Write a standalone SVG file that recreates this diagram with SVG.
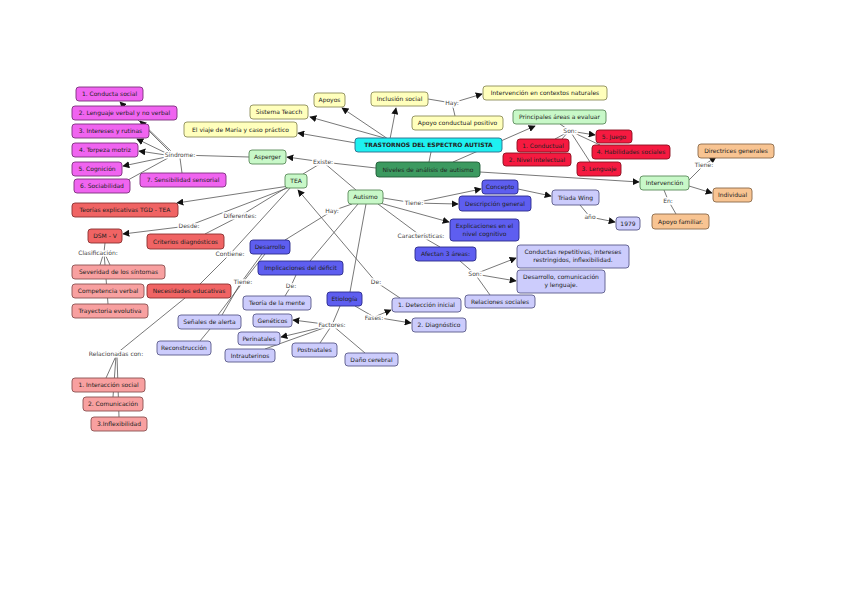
<svg xmlns="http://www.w3.org/2000/svg" width="848" height="599" viewBox="0 0 848 599">
<defs>
<marker id="ar" viewBox="0 0 10 10" refX="9" refY="5" markerWidth="7" markerHeight="7" markerUnits="userSpaceOnUse" orient="auto">
<path d="M0,0 L10,5 L0,10 z" fill="#111"/>
</marker>
<style>
text{font-family:"DejaVu Sans","Liberation Sans",sans-serif;font-size:6px;fill:#222;text-anchor:middle}
.n rect{stroke-width:0.9;rx:3;ry:3}
.pk rect{fill:#f064f0;stroke:#7a307a}
.yl rect{fill:#ffffbc;stroke:#8c8c5a}
.cy rect{fill:#1ef0f0;stroke:#2a6a8a}
.dg rect{fill:#3c9a60;stroke:#1f5a36}
.lg rect{fill:#c8f8c8;stroke:#5a8a5a}
.rd rect{fill:#f51a40;stroke:#8a1020}
.sm rect{fill:#f06464;stroke:#8a3030}
.ls rect{fill:#f8a0a0;stroke:#8a5050}
.bl rect{fill:#5e5ef0;stroke:#2a2a8a}
.lv rect{fill:#ccccfc;stroke:#5a5a8a}
.pc rect{fill:#f8c492;stroke:#8a6a4a}
.b{font-weight:bold}
#links path{fill:none;stroke:#555;stroke-width:0.8}
#links .a{marker-end:url(#ar)}
.lb{paint-order:stroke;stroke:#fff;stroke-width:3px;fill:#444}
</style>
</defs>
<rect width="848" height="599" fill="#fff"/>
<g id="links">
<path class="a" d="M388,139 L342,108"/>
<path class="a" d="M388,139 L310,117"/>
<path class="a" d="M356,143 L298,133"/>
<path class="a" d="M390,139 L396,108"/>
<path d="M428,99 L452,103"/>
<path class="a" d="M452,103 L482,94"/>
<path d="M452,103 L455,116"/>
<path d="M431,152 L429,162"/>
<path class="a" d="M453,162 L535,126"/>
<path class="a" d="M480,172 L639,182"/>
<path d="M376,168 L323,162"/>
<path class="a" d="M323,162 L287,157"/>
<path d="M323,162 L303,174"/>
<path d="M323,162 L356,190"/>
<path d="M249,157 L180,155"/>
<path class="a" d="M170,152 L120,102"/>
<path class="a" d="M172,152 L140,121"/>
<path class="a" d="M168,154 L137,139"/>
<path class="a" d="M166,155 L139,151"/>
<path class="a" d="M166,157 L123,166"/>
<path d="M168,158 L128,180"/>
<path d="M180,158 L182,173"/>
<path class="a" d="M289,186 L177,203"/>
<path d="M289,186 L240,216 L205,234"/>
<path d="M290,187 L188,226"/>
<path class="a" d="M188,226 L123,234"/>
<path d="M291,187 L230,254 L200,284"/>
<path d="M185,298 L116,354"/>
<path d="M116,356 L106,378"/>
<path d="M116,356 L113,397"/>
<path d="M117,356 L119,417"/>
<path d="M105,243 L104,252"/>
<path d="M104,252 L100,265"/>
<path d="M104,252 L110,265"/>
<path d="M104,252 L108,304"/>
<path d="M352,204 L332,211 L285,240"/>
<path d="M358,204 L310,261"/>
<path d="M366,204 L350,292"/>
<path d="M383,198 L414,203"/>
<path class="a" d="M414,203 L481,189"/>
<path class="a" d="M414,203 L458,204"/>
<path class="a" d="M380,203 L449,222"/>
<path d="M378,204 L421,236 L440,247"/>
<path class="a" d="M400,298 L376,282 L298,190"/>
<path d="M265,254 L243,282 L218,315"/>
<path d="M262,254 L240,284 L222,315"/>
<path d="M296,275 L291,286 L285,296"/>
<path d="M210,329 L200,341"/>
<path d="M340,306 L332,325"/>
<path class="a" d="M332,325 L293,320"/>
<path class="a" d="M332,325 L281,337"/>
<path d="M332,325 L265,349"/>
<path d="M332,325 L320,343"/>
<path d="M332,325 L365,353"/>
<path d="M355,306 L374,317"/>
<path class="a" d="M374,317 L391,310"/>
<path class="a" d="M374,317 L411,323"/>
<path d="M460,261 L475,274"/>
<path class="a" d="M475,274 L516,258"/>
<path class="a" d="M475,274 L516,281"/>
<path d="M475,274 L490,295"/>
<path class="a" d="M518,189 L551,196"/>
<path d="M580,205 L590,217"/>
<path class="a" d="M590,217 L615,222"/>
<path d="M560,124 L570,131"/>
<path class="a" d="M570,131 L595,135"/>
<path d="M570,131 L600,145"/>
<path d="M570,131 L590,162"/>
<path d="M570,131 L555,139"/>
<path d="M568,132 L550,153"/>
<path d="M689,180 L704,165"/>
<path class="a" d="M704,165 L716,157"/>
<path class="a" d="M689,186 L712,193"/>
<path d="M664,190 L668,200 L676,214"/>
</g>
<g id="labels">
<text class="lb" x="180" y="157">Síndrome:</text>
<text class="lb" x="452" y="105">Hay:</text>
<text class="lb" x="323" y="164">Existe:</text>
<text class="lb" x="240" y="218">Diferentes:</text>
<text class="lb" x="189" y="228">Desde:</text>
<text class="lb" x="98" y="255">Clasificación:</text>
<text class="lb" x="230" y="256">Contiene:</text>
<text class="lb" x="116" y="356">Relacionadas con:</text>
<text class="lb" x="332" y="213">Hay:</text>
<text class="lb" x="243" y="284">Tiene:</text>
<text class="lb" x="291" y="288">De:</text>
<text class="lb" x="376" y="284">De:</text>
<text class="lb" x="414" y="205">Tiene:</text>
<text class="lb" x="421" y="238">Características:</text>
<text class="lb" x="332" y="327">Factores:</text>
<text class="lb" x="374" y="320">Fases:</text>
<text class="lb" x="475" y="276">Son:</text>
<text class="lb" x="590" y="219">año</text>
<text class="lb" x="570" y="133">Son:</text>
<text class="lb" x="704" y="167">Tiene:</text>
<text class="lb" x="668" y="203">En:</text>
</g>
<g id="n-c1" class="n pk"><rect x="76" y="87" width="67" height="14"/><text x="109.5" y="96">1. Conducta social</text></g>
<g id="n-c2" class="n pk"><rect x="72" y="106" width="105" height="14"/><text x="124.5" y="115">2. Lenguaje verbal y no verbal</text></g>
<g id="n-c3" class="n pk"><rect x="72" y="124" width="77" height="14"/><text x="110.5" y="133">3. Intereses y rutinas</text></g>
<g id="n-c4" class="n pk"><rect x="72" y="143" width="66" height="14"/><text x="105" y="152">4. Torpeza motriz</text></g>
<g id="n-c5" class="n pk"><rect x="72" y="162" width="50" height="14"/><text x="97" y="171">5. Cognición</text></g>
<g id="n-c6" class="n pk"><rect x="74" y="179" width="56" height="14"/><text x="102" y="188">6. Sociabilidad</text></g>
<g id="n-c7" class="n pk"><rect x="140" y="173" width="86" height="14"/><text x="183" y="182">7. Sensibilidad sensorial</text></g>
<g id="n-teacch" class="n yl"><rect x="250" y="105" width="58" height="14"/><text x="279" y="114">Sistema Teacch</text></g>
<g id="n-viaje" class="n yl"><rect x="184" y="122" width="113" height="15"/><text x="240.5" y="131.5">El viaje de María y caso práctico</text></g>
<g id="n-apoyos" class="n yl"><rect x="314" y="93" width="31" height="14"/><text x="329.5" y="102">Apoyos</text></g>
<g id="n-inclusion" class="n yl"><rect x="371" y="92" width="57" height="14"/><text x="399.5" y="101">Inclusión social</text></g>
<g id="n-contextos" class="n yl"><rect x="483" y="86" width="124" height="14"/><text x="545" y="95">Intervención en contextos naturales</text></g>
<g id="n-apoyocond" class="n yl"><rect x="412" y="116" width="91" height="14"/><text x="457.5" y="125">Apoyo conductual positivo</text></g>
<g id="n-tea-main" class="n cy"><rect x="355" y="138" width="147" height="14"/><text class="b" x="428.5" y="147">TRASTORNOS DEL ESPECTRO AUTISTA</text></g>
<g id="n-niveles" class="n dg"><rect x="376" y="162" width="104" height="15"/><text x="428" y="171.5">Niveles de análisis de autismo</text></g>
<g id="n-asperger" class="n lg"><rect x="249" y="150" width="37" height="14"/><text x="267.5" y="159">Asperger</text></g>
<g id="n-tea" class="n lg"><rect x="285" y="174" width="22" height="14"/><text x="296" y="183">TEA</text></g>
<g id="n-autismo" class="n lg"><rect x="348" y="190" width="35" height="14"/><text x="365.5" y="199">Autismo</text></g>
<g id="n-principales" class="n lg"><rect x="513" y="110" width="93" height="14"/><text x="559.5" y="119">Principales áreas a evaluar</text></g>
<g id="n-intervencion" class="n lg"><rect x="640" y="176" width="49" height="14"/><text x="664.5" y="185">Intervención</text></g>
<g id="n-conductual" class="n rd"><rect x="517" y="139" width="52" height="13"/><text x="543" y="147.5">1. Conductual</text></g>
<g id="n-nivel" class="n rd"><rect x="503" y="153" width="68" height="13"/><text x="537" y="161.5">2. Nivel intelectual</text></g>
<g id="n-juego" class="n rd"><rect x="596" y="130" width="36" height="13"/><text x="614" y="138.5">5. Juego</text></g>
<g id="n-habilidades" class="n rd"><rect x="592" y="145" width="78" height="14"/><text x="631" y="154">4. Habilidades sociales</text></g>
<g id="n-lenguaje" class="n rd"><rect x="577" y="162" width="44" height="14"/><text x="599" y="171">3. Lenguaje</text></g>
<g id="n-teorias" class="n sm"><rect x="72" y="203" width="106" height="14"/><text x="125" y="212">Teorías explicativas TGD - TEA</text></g>
<g id="n-dsm" class="n sm"><rect x="88" y="229" width="34" height="14"/><text x="105" y="238">DSM - V</text></g>
<g id="n-criterios" class="n sm"><rect x="147" y="234" width="77" height="15"/><text x="185.5" y="243.5">Criterios diagnósticos</text></g>
<g id="n-necesidades" class="n sm"><rect x="147" y="284" width="84" height="14"/><text x="189" y="293">Necesidades educativas</text></g>
<g id="n-severidad" class="n ls"><rect x="72" y="265" width="93" height="14"/><text x="118.5" y="274">Severidad de los síntomas</text></g>
<g id="n-competencia" class="n ls"><rect x="72" y="284" width="72" height="14"/><text x="108" y="293">Competencia verbal</text></g>
<g id="n-trayectoria" class="n ls"><rect x="72" y="304" width="76" height="14"/><text x="110" y="313">Trayectoria evolutiva</text></g>
<g id="n-interaccion" class="n ls"><rect x="72" y="378" width="73" height="14"/><text x="108.5" y="387">1. Interacción social</text></g>
<g id="n-comunicacion" class="n ls"><rect x="83" y="397" width="60" height="14"/><text x="113" y="406">2. Comunicación</text></g>
<g id="n-inflex" class="n ls"><rect x="91" y="417" width="56" height="14"/><text x="119" y="426">3.Inflexibilidad</text></g>
<g id="n-desarrollo" class="n bl"><rect x="250" y="240" width="40" height="14"/><text x="270" y="249">Desarrollo</text></g>
<g id="n-implicaciones" class="n bl"><rect x="258" y="261" width="85" height="14"/><text x="300.5" y="270">Implicaciones del déficit</text></g>
<g id="n-etiologia" class="n bl"><rect x="327" y="292" width="35" height="14"/><text x="344.5" y="301">Etiología</text></g>
<g id="n-concepto" class="n bl"><rect x="482" y="180" width="36" height="14"/><text x="500" y="189">Concepto</text></g>
<g id="n-descripcion" class="n bl"><rect x="459" y="196" width="72" height="15"/><text x="495" y="205.5">Descripción general</text></g>
<g id="n-explicaciones" class="n bl"><rect x="450" y="219" width="69" height="22"/><text x="484.5" y="228">Explicaciones en el</text><text x="484.5" y="236">nivel cognitivo</text></g>
<g id="n-afectan" class="n bl"><rect x="415" y="247" width="61" height="14"/><text x="445.5" y="256">Afectan 3 áreas:</text></g>
<g id="n-teoriamente" class="n lv"><rect x="243" y="296" width="68" height="14"/><text x="277" y="305">Teoría de la mente</text></g>
<g id="n-senales" class="n lv"><rect x="178" y="315" width="63" height="14"/><text x="209.5" y="324">Señales de alerta</text></g>
<g id="n-geneticos" class="n lv"><rect x="253" y="314" width="39" height="13"/><text x="272.5" y="322.5">Genéticos</text></g>
<g id="n-perinatales" class="n lv"><rect x="238" y="332" width="42" height="13"/><text x="259" y="340.5">Perinatales</text></g>
<g id="n-intrauterinos" class="n lv"><rect x="225" y="349" width="50" height="13"/><text x="250" y="357.5">Intrauterinos</text></g>
<g id="n-postnatales" class="n lv"><rect x="292" y="343" width="45" height="14"/><text x="314.5" y="352">Postnatales</text></g>
<g id="n-dano" class="n lv"><rect x="345" y="353" width="53" height="13"/><text x="371.5" y="361.5">Daño cerebral</text></g>
<g id="n-reconstruccion" class="n lv"><rect x="157" y="341" width="54" height="14"/><text x="184" y="350">Reconstrucción</text></g>
<g id="n-deteccion" class="n lv"><rect x="392" y="298" width="69" height="14"/><text x="426.5" y="307">1. Detección inicial</text></g>
<g id="n-diagnostico" class="n lv"><rect x="412" y="318" width="54" height="14"/><text x="439" y="327">2. Diagnóstico</text></g>
<g id="n-relaciones" class="n lv"><rect x="465" y="295" width="70" height="13"/><text x="500" y="303.5">Relaciones sociales</text></g>
<g id="n-conductas" class="n lv"><rect x="517" y="245" width="112" height="23"/><text x="573" y="254">Conductas repetitivas, intereses</text><text x="573" y="262">restringidos, inflexibilidad.</text></g>
<g id="n-desarrollocom" class="n lv"><rect x="517" y="270" width="88" height="23"/><text x="561" y="279">Desarrollo, comunicación</text><text x="561" y="287">y lenguaje.</text></g>
<g id="n-triada" class="n lv"><rect x="552" y="190" width="47" height="15"/><text x="575.5" y="199.5">Triada Wing</text></g>
<g id="n-1979" class="n lv"><rect x="616" y="217" width="24" height="13"/><text x="628" y="225.5">1979</text></g>
<g id="n-directrices" class="n pc"><rect x="698" y="144" width="76" height="14"/><text x="736" y="153">Directrices generales</text></g>
<g id="n-individual" class="n pc"><rect x="713" y="188" width="39" height="14"/><text x="732.5" y="197">Individual</text></g>
<g id="n-familiar" class="n pc"><rect x="652" y="214" width="57" height="15"/><text x="680.5" y="223.5">Apoyo familiar.</text></g>
</svg>
